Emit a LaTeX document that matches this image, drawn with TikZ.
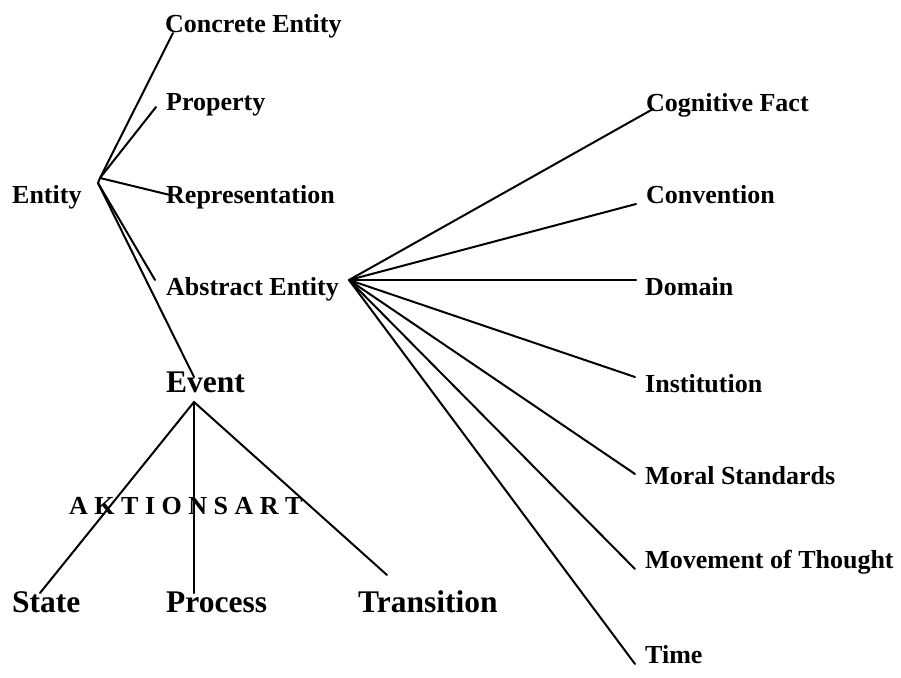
\documentclass[tikz,border=0pt]{standalone}
\usepackage{fontspec}
\setmainfont{Liberation Serif}
\begin{document}
\begin{tikzpicture}[x=1pt,y=-1pt,
  lab/.style={inner sep=0pt,anchor=base west,font=\bfseries\fontsize{26}{30}\selectfont},
  biglab/.style={inner sep=0pt,anchor=base west,font=\bfseries\fontsize{31.5}{36}\selectfont},
  edge/.style={line width=2pt,line cap=round,line join=round}]
\useasboundingbox (0,0) rectangle (901,677);
% labels
\node[lab] (entity) at (12,203) {Entity};
\node[lab] (concrete) at (165,33) {Concrete Entity};
\node[lab] (property) at (166,110) {Property};
\node[lab] (repr) at (166,203) {Representation};
\node[lab] (abstract) at (166,295) {Abstract Entity};
\node[biglab] (event) at (166,392) {Event};
\node[lab] (aktion) at (69,514) {A K T I O N S A R T};
\node[biglab] (state) at (12,612) {State};
\node[biglab] (process) at (166,612) {Process};
\node[biglab] (transition) at (358,612) {Transition};
\node[lab] (cogfact) at (646,111) {Cognitive Fact};
\node[lab] (convention) at (646,203) {Convention};
\node[lab] (domain) at (645,295) {Domain};
\node[lab] (institution) at (645,392) {Institution};
\node[lab] (moral) at (645,484) {Moral Standards};
\node[lab] (movement) at (645,568) {Movement of Thought};
\node[lab] (time) at (645,663) {Time};
% hubs and ends
\coordinate (eh) at (100,178);
\coordinate (eh2) at (98,183);
\coordinate (ah) at (349,280);
\coordinate (vh) at (194,402);
\coordinate (cE) at (173,33);
\coordinate (pE) at (156,107);
\coordinate (rE) at (170,195);
\coordinate (aE) at (155,280);
\coordinate (evE) at (194,377);
\coordinate (cfE) at (653,109);
\coordinate (cvE) at (636,204);
\coordinate (dE) at (636,280);
\coordinate (iE) at (635,377);
\coordinate (mE) at (635,474);
\coordinate (mtE) at (635,569);
\coordinate (tE) at (635,664);
\coordinate (sE) at (40,593);
\coordinate (prE) at (194,593);
\coordinate (trE) at (387,575);
% connectors
\draw[edge] (eh2) -- (eh);
\draw[edge] (eh) -- (cE);
\draw[edge] (eh) -- (pE);
\draw[edge] (eh) -- (rE);
\draw[edge] (eh2) -- (aE);
\draw[edge] (eh2) -- (evE);
\foreach \t in {cfE,cvE,dE,iE,mE,mtE,tE} \draw[edge] (ah) -- (\t);
\draw[edge] (vh) -- (sE);
\draw[edge] (vh) -- (prE);
\draw[edge] (vh) -- (trE);
\end{tikzpicture}
\end{document}
